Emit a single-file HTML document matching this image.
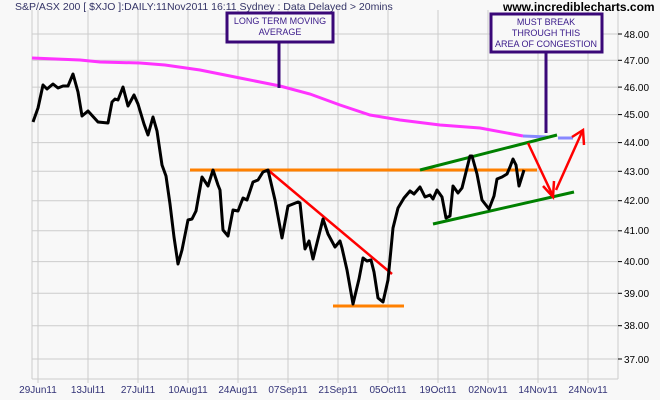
<!DOCTYPE html>
<html><head><style>
html,body{margin:0;padding:0;background:#f8f8f8;}
svg{display:block;font-family:"Liberation Sans",sans-serif;}
</style></head><body>
<svg width="660" height="400" viewBox="0 0 660 400" xmlns="http://www.w3.org/2000/svg">
<rect width="660" height="400" fill="#f8f8f8"/>
<g stroke="#cccccc" stroke-width="1">
<line x1="32" y1="34" x2="618" y2="34"/><line x1="32" y1="60.3" x2="618" y2="60.3"/>
<line x1="32" y1="87.1" x2="618" y2="87.1"/><line x1="32" y1="114.6" x2="618" y2="114.6"/>
<line x1="32" y1="142.6" x2="618" y2="142.6"/><line x1="32" y1="171.3" x2="618" y2="171.3"/>
<line x1="32" y1="200.7" x2="618" y2="200.7"/><line x1="32" y1="230.8" x2="618" y2="230.8"/>
<line x1="32" y1="261.6" x2="618" y2="261.6"/><line x1="32" y1="293.3" x2="618" y2="293.3"/>
<line x1="32" y1="325.7" x2="618" y2="325.7"/><line x1="32" y1="359" x2="618" y2="359"/>
<line x1="38" y1="10" x2="38" y2="383"/><line x1="88" y1="10" x2="88" y2="383"/>
<line x1="138" y1="10" x2="138" y2="383"/><line x1="188" y1="10" x2="188" y2="383"/>
<line x1="238" y1="10" x2="238" y2="383"/><line x1="288" y1="10" x2="288" y2="383"/>
<line x1="338" y1="10" x2="338" y2="383"/><line x1="388" y1="10" x2="388" y2="383"/>
<line x1="438" y1="10" x2="438" y2="383"/><line x1="488" y1="10" x2="488" y2="383"/>
<line x1="538" y1="10" x2="538" y2="383"/><line x1="588" y1="10" x2="588" y2="383"/>
<line x1="32" y1="10" x2="32" y2="379"/><line x1="618" y1="10" x2="618" y2="379"/>
<line x1="32" y1="379" x2="618" y2="379"/>
</g>
<g stroke="#000" stroke-width="1">
<line x1="618" y1="34" x2="622" y2="34"/><line x1="618" y1="60.3" x2="622" y2="60.3"/><line x1="618" y1="87.1" x2="622" y2="87.1"/><line x1="618" y1="114.6" x2="622" y2="114.6"/><line x1="618" y1="142.6" x2="622" y2="142.6"/><line x1="618" y1="171.3" x2="622" y2="171.3"/><line x1="618" y1="200.7" x2="622" y2="200.7"/><line x1="618" y1="230.8" x2="622" y2="230.8"/><line x1="618" y1="261.6" x2="622" y2="261.6"/><line x1="618" y1="293.3" x2="622" y2="293.3"/><line x1="618" y1="325.7" x2="622" y2="325.7"/><line x1="618" y1="359" x2="622" y2="359"/>
</g>
<g font-size="10" fill="#000">
<text x="624" y="38">48.00</text><text x="624" y="64">47.00</text><text x="624" y="91">46.00</text><text x="624" y="118">45.00</text><text x="624" y="146">44.00</text><text x="624" y="175">43.00</text><text x="624" y="204">42.00</text><text x="624" y="234">41.00</text><text x="624" y="265">40.00</text><text x="624" y="297">39.00</text><text x="624" y="329">38.00</text><text x="624" y="363">37.00</text>
</g>
<g font-size="10" fill="#333377" text-anchor="middle">
<text x="38" y="393">29Jun11</text><text x="88" y="393">13Jul11</text><text x="138" y="393">27Jul11</text><text x="188" y="393">10Aug11</text><text x="238" y="393">24Aug11</text><text x="288" y="393">07Sep11</text><text x="338" y="393">21Sep11</text><text x="388" y="393">05Oct11</text><text x="438" y="393">19Oct11</text><text x="488" y="393">02Nov11</text><text x="538" y="393">14Nov11</text><text x="588" y="393">24Nov11</text>
</g>
<text x="15" y="10" font-size="10.5" fill="#333366">S&amp;P/ASX 200 [ $XJO ]:DAILY:11Nov2011 16:11 Sydney : Data Delayed &gt; 20mins</text>
<text x="503" y="11" font-size="12" font-weight="bold" fill="#000">www.incrediblecharts.com</text>
<polyline fill="none" stroke="#ff33ff" stroke-width="3" points="32,58 80,60 100,62 140,63 165,65 200,70 240,78 280,86 310,94 340,105 370,115 400,120 440,125 480,128 523,136"/>
<polyline fill="none" stroke="#8888ff" stroke-width="3" points="523,136 548,137"/>
<polyline fill="none" stroke="#8888ff" stroke-width="3" points="558,138 573,138"/>
<line x1="190" y1="170" x2="537" y2="170" stroke="#ff8000" stroke-width="3"/>
<line x1="333" y1="306" x2="404" y2="306" stroke="#ff8000" stroke-width="3"/>
<line x1="268" y1="170" x2="392" y2="274" stroke="#ff0000" stroke-width="2.5"/>
<line x1="420" y1="170" x2="557" y2="135" stroke="#008000" stroke-width="3"/>
<line x1="433" y1="224" x2="574" y2="192" stroke="#008000" stroke-width="3"/>
<polyline fill="none" stroke="#000" stroke-width="3" stroke-linejoin="round" points="33,122 38,108 43,85 47,89 53,84 58,88 63,86 68,86 73,74 78,92 82,116 88,111 98,122 108,123 112,102 115,99 118,100 123,87 128,106 134,95 138,104 144,124 148,135 153,117 157,131 162,165 166,176 170,204 174,237 178,264 182,250 188,220 192,219 196,211 202,177 208,186 213,170 218,185 220,190 223,230 228,236 233,210 238,211 243,198 247,200 253,182 258,180 263,172 268,170 275,200 282,238 288,206 298,202 300,203 302,222 305,249 309,241 313,259 323,219 328,234 335,247 340,241 342,248 347,270 353,304 359,279 363,258 367,261 371,260 374,272 378,298 383,302 388,280 391,249 393,228 398,208 404,198 410,191 414,194 420,187 425,197 430,195 433,199 437,190 442,197 446,218 450,216 453,186 458,193 462,188 466,172 470,156 472,156 477,174 482,200 489,209 494,196 497,179 502,177 507,174 510,167 513,159 516,165 519,186 524,170"/>
<g stroke="#ff0000" stroke-width="2.5" fill="none">
<line x1="528" y1="143" x2="552" y2="194"/>
<polyline points="543,186 553,197 554,181"/>
<line x1="556" y1="190" x2="582" y2="132"/>
<polyline points="572,137 583,130 584,145"/>
</g>
<rect x="227" y="13" width="106" height="29" fill="#f8f8f8" stroke="#3a0878" stroke-width="3"/>
<line x1="279" y1="42" x2="279" y2="88" stroke="#3a0878" stroke-width="3"/>
<text x="280" y="24" font-size="9" fill="#3a1a8a" text-anchor="middle">LONG TERM MOVING</text>
<text x="280" y="35" font-size="9" fill="#3a1a8a" text-anchor="middle">AVERAGE</text>
<rect x="491" y="14" width="111" height="38" fill="#f8f8f8" stroke="#3a0878" stroke-width="3"/>
<line x1="546" y1="52" x2="546" y2="133" stroke="#3a0878" stroke-width="3"/>
<text x="546" y="25" font-size="9" fill="#3a1a8a" text-anchor="middle">MUST BREAK</text>
<text x="546" y="36" font-size="9" fill="#3a1a8a" text-anchor="middle">THROUGH THIS</text>
<text x="546" y="47" font-size="9" fill="#3a1a8a" text-anchor="middle">AREA OF CONGESTION</text>
</svg>
</body></html>
